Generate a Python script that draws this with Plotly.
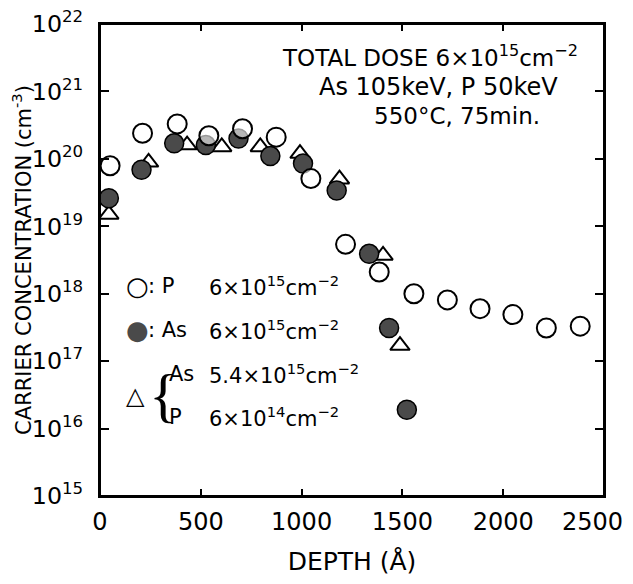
import plotly.graph_objects as go

# Data
p_depth = [50, 211, 383, 540, 707, 874, 1046, 1218, 1385, 1557, 1723, 1885, 2048, 2214, 2382]
p_conc = [7.9e19, 2.4e20, 3.3e20, 2.2e20, 2.8e20, 2.1e20, 5.1e19, 5.4e18, 2.1e18, 1.0e18,
          8.1e17, 6.0e17, 4.9e17, 3.1e17, 3.3e17]

as_depth = [44, 206, 368, 525, 687, 845, 1007, 1174, 1335, 1434, 1522]
as_conc = [2.6e19, 6.9e19, 1.7e20, 1.6e20, 2.0e20, 1.1e20, 8.5e19, 3.4e19, 3.9e18, 3.1e17, 1.9e16]

mix_depth = [44, 241, 432, 604, 795, 992, 1188, 1404, 1488]
mix_conc = [1.5e19, 8.9e19, 1.6e20, 1.5e20, 1.5e20, 1.2e20, 5.0e19, 3.7e18, 1.7e17]

x_ticks = [0, 500, 1000, 1500, 2000, 2500]
x_tick_labels = ["0", "500", "1000", "1500", "2000", "2500\u00a0\u00a0\u00a0"]

FONT = "DejaVu Sans"

fig = go.Figure()
fig.add_trace(go.Scatter(
    x=mix_depth, y=mix_conc, mode="markers", name="As 5.4e15 + P 6e14",
    marker=dict(symbol="triangle-up", size=17, color="white",
                line=dict(color="black", width=2)),
))
fig.add_trace(go.Scatter(
    x=as_depth, y=as_conc, mode="markers", name="As 6e15",
    marker=dict(symbol="circle", size=19, color="#4a4a4a",
                line=dict(color="black", width=1.5)),
))
fig.add_trace(go.Scatter(
    x=p_depth, y=p_conc, mode="markers", name="P 6e15",
    marker=dict(symbol="circle", size=19, color="rgba(255,255,255,0.6)",
                line=dict(color="black", width=2)),
))

axis_common = dict(showline=True, linecolor="black", linewidth=2, mirror="allticks",
                   ticks="inside", tickcolor="black", showgrid=False, zeroline=False,
                   automargin=False, ticklabeloverflow="allow")

fig.update_xaxes(range=[0, 2500], tickvals=x_ticks, ticktext=x_tick_labels,
                 ticklen=7, tickwidth=1.5, ticklabelstandoff=3,
                 tickfont=dict(family=FONT, size=24, color="black"),
                 title=dict(text="DEPTH (Å)", font=dict(family=FONT, size=25, color="black"),
                            standoff=26),
                 **axis_common)
fig.update_yaxes(type="log", range=[15, 22], dtick=1, exponentformat="power",
                 ticklen=9, tickwidth=1.5, ticklabelstandoff=11,
                 tickfont=dict(family=FONT, size=19, color="black"),
                 title=dict(text="CARRIER CONCENTRATION (cm<sup>-3</sup>)",
                            font=dict(family=FONT, size=21, color="black"), standoff=5),
                 **axis_common)

ann = []
def txt(t, x, y, size=21, xanchor="left", family=FONT, **kw):
    ann.append(dict(text=t, x=x, y=y, xref="paper", yref="paper", xanchor=xanchor,
                    yanchor="middle", showarrow=False,
                    font=dict(family=family, size=size, color="black"), **kw))

# intended plot area in window pixels: left 100, right 604, top 24, bottom 496
L, R, T, B = 100, 604, 24, 496
def px(x):
    return (x - L) / (R - L)
def py(y):
    return (B - y) / (B - T)

txt("TOTAL DOSE 6×10<sup>15</sup>cm<sup>−2</sup>", px(580), py(56), size=23, xanchor="right")
txt("As 105keV, P 50keV", px(560), py(87), size=24, xanchor="right")
txt("550°C, 75min.", px(542), py(116), size=23, xanchor="right")

txt("○", px(124), py(286), size=26)
txt(": P", px(146), py(286))
txt("6×10<sup>15</sup>cm<sup>−2</sup>", px(207), py(286))
txt("<span style='color:#4a4a4a'>●</span>", px(124), py(330), size=26)
txt(": As", px(146), py(330))
txt("6×10<sup>15</sup>cm<sup>−2</sup>", px(207), py(330))
txt("△", px(124), py(396), size=24)
txt("{", px(147), py(395), size=60, family="Liberation Serif")
txt("As", px(167), py(374))
txt("5.4×10<sup>15</sup>cm<sup>−2</sup>", px(207), py(374))
txt("P", px(167), py(417))
txt("6×10<sup>14</sup>cm<sup>−2</sup>", px(207), py(417))

# the page body adds an 8px margin, so the figure is sized to fit inside the window
fig.update_layout(
    width=617, height=568,
    margin=dict(l=92, r=21, t=16, b=80),
    paper_bgcolor="white", plot_bgcolor="white",
    showlegend=False,
    annotations=ann,
    font=dict(family=FONT, color="black"),
    shapes=[dict(type="rect", xref="paper", yref="paper", x0=0, y0=0, x1=1, y1=1,
                 line=dict(color="black", width=2), layer="above")],
)

fig.write_html("out.html")
